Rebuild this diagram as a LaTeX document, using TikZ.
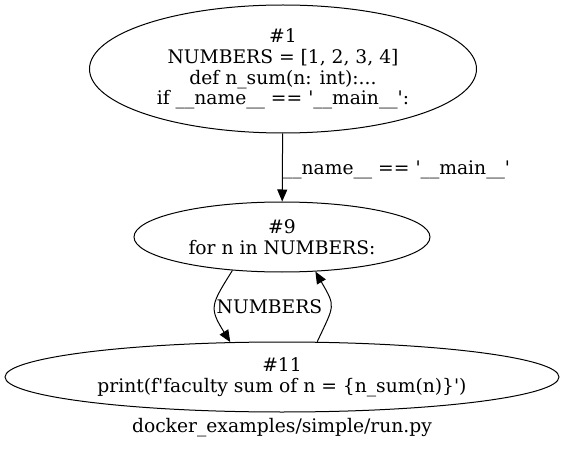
\documentclass[tikz,border=0pt]{standalone}
\usepackage{fontspec}
\setmainfont{DejaVu Serif}
\usepackage{tikz}
\usetikzlibrary{shapes.geometric}
\usetikzlibrary{arrows.meta}

\begin{document}
\begin{tikzpicture}[
	x=1pt, y=1pt,
	stmt/.style={
		ellipse,
		draw=black,
		line width=1pt,
		inner sep=0pt,
		align=center,
		font=\fontsize{18.7}{20.8}\selectfont
		},
	flow/.style={
		line width=1pt,
		-{Triangle[length=12pt,width=10pt]}
	},
	lbl/.style={
		inner sep=1pt,
		font=\fontsize{18.7}{20.8}\selectfont
	}
]
\useasboundingbox (0,0) rectangle (565,-449);

% Statements
\node [stmt, minimum width=387, minimum height=128] (Stmt 1) at (283,-69)
	{\#1\\NUMBERS = [1, 2, 3, 4]\\def n\_sum(n: int):...\\if \_\_name\_\_ == \textquotesingle\_\_main\_\_\textquotesingle:};
\node [stmt, minimum width=296, minimum height=70] (Stmt 9) at (282,-237)
	{\#9\\for n in NUMBERS:};
\node [stmt, minimum width=554, minimum height=70] (Stmt 11) at (282,-377)
	{\#11\\print(f\textquotesingle faculty sum of n = \{n\_sum(n)\}\textquotesingle)};

% File name
\node [lbl] (File) at (282,-428) {docker\_examples/simple/run.py};

% Edges
\draw [flow] (Stmt 1) -- (Stmt 9)
	node [lbl, midway, right, inner sep=0pt, yshift=-2pt] {\_\_name\_\_ == \textquotesingle\_\_main\_\_\textquotesingle};
\draw [flow] (Stmt 9.214) to [out=238, in=122, looseness=1.45]
	node [lbl, pos=0.5, right, inner sep=0pt, xshift=1pt] {NUMBERS} (Stmt 11.146);
\draw [flow] (Stmt 11.45) to [out=65, in=-60, looseness=1.5] (Stmt 9.314);

\end{tikzpicture}
\end{document}
